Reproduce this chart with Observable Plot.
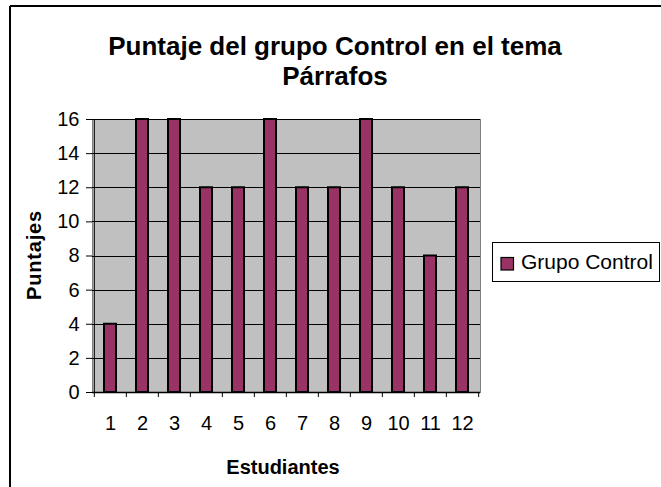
<!DOCTYPE html>
<html>
<head>
<meta charset="utf-8">
<script src="https://cdn.jsdelivr.net/npm/d3@7"></script>
<script src="https://cdn.jsdelivr.net/npm/@observablehq/plot@0.6"></script>
<style>
  html, body { margin: 0; padding: 0; background: #fff; }
  #chart { position: relative; width: 661px; height: 487px; overflow: hidden; }
  svg { font-family: "Liberation Sans", Arial, sans-serif; }
</style>
</head>
<body>
<div id="chart"></div>
<script>
const categories = ["1","2","3","4","5","6","7","8","9","10","11","12"];
const values = [4, 16, 16, 12, 12, 16, 12, 12, 16, 12, 8, 12];
const yTicks = [0, 2, 4, 6, 8, 10, 12, 14, 16];
const seriesName = "Grupo Control";
const titleLines = ["Puntaje del grupo Control en el tema", "Párrafos"];
const xTitle = "Estudiantes";
const yTitle = "Puntajes";

const data = categories.map((c, i) => ({cat: c, val: values[i]}));

const W = 661, H = 487;
const mL = 92, mR = 181, mT = 119, mB = 95;
const step = (W - mL - mR) / categories.length;
const barColor = "#993366";
const font = '"Liberation Sans", Arial, sans-serif';

const plot = Plot.plot({
  width: W,
  height: H,
  marginLeft: mL,
  marginRight: mR,
  marginTop: mT,
  marginBottom: mB,
  style: {fontFamily: font, fontSize: "20px", color: "#000", background: "transparent"},
  x: {type: "band", domain: categories, paddingInner: 0.62, paddingOuter: 0.31, axis: null},
  y: {domain: [0, 16], axis: null},
  marks: [
    Plot.frame({fill: "#C0C0C0", stroke: "#808080", shapeRendering: "crispEdges"}),
    Plot.gridY(yTicks, {stroke: "#000", strokeOpacity: 1, strokeWidth: 1, shapeRendering: "crispEdges"}),
    Plot.barY(data, {x: "cat", y: "val", fill: barColor, stroke: "#000", strokeWidth: 2}),
    Plot.ruleY([0], {stroke: "#000", strokeWidth: 1.5}),
    Plot.ruleX([categories[0]], {dx: -step / 2, stroke: "#000", strokeWidth: 1}),
    Plot.axisY({ticks: yTicks, tickSize: 6, tickPadding: 7, fontSize: 20, stroke: "#000", label: null}),
    Plot.axisX({ticks: categories, tickSize: 5, tickFormat: () => "", dx: -step / 2, stroke: "#000", label: null}),
    Plot.axisX({ticks: [categories[categories.length - 1]], tickSize: 5, tickFormat: () => "", dx: step / 2, stroke: "#000", label: null}),
    Plot.axisX({ticks: categories, tickSize: 0, tickPadding: 23, fontSize: 20, label: null})
  ]
});

document.getElementById("chart").appendChild(plot);

const svg = d3.select(plot);

// Chart area border (left and top visible)
svg.append("line").attr("x1", 10).attr("y1", 6).attr("x2", 10).attr("y2", H).attr("stroke", "#000").attr("stroke-width", 2);
svg.append("line").attr("x1", 10).attr("y1", 6).attr("x2", W).attr("y2", 6).attr("stroke", "#000").attr("stroke-width", 2);

// Title
const t = svg.append("text")
  .attr("text-anchor", "middle")
  .attr("font-family", font)
  .attr("font-weight", "bold")
  .attr("font-size", 26)
  .attr("fill", "#000");
titleLines.forEach((line, i) => {
  t.append("tspan").attr("x", 335).attr("y", 55 + i * 30).text(line);
});

// Axis titles
svg.append("text")
  .attr("transform", "translate(41,255) rotate(-90)")
  .attr("text-anchor", "middle")
  .attr("font-family", font)
  .attr("font-weight", "bold")
  .attr("font-size", 20)
  .attr("letter-spacing", 0.8)
  .attr("fill", "#000")
  .text(yTitle);

svg.append("text")
  .attr("x", 283)
  .attr("y", 474)
  .attr("text-anchor", "middle")
  .attr("font-family", font)
  .attr("font-weight", "bold")
  .attr("font-size", 20)
  .attr("fill", "#000")
  .text(xTitle);

// Legend
const lg = svg.append("g");
lg.append("rect").attr("x", 492.5).attr("y", 242.5).attr("width", 167).attr("height", 39)
  .attr("fill", "#fff").attr("stroke", "#000").attr("stroke-width", 1);
lg.append("rect").attr("x", 501).attr("y", 257.5).attr("width", 12.5).attr("height", 12.5)
  .attr("fill", barColor).attr("stroke", "#000").attr("stroke-width", 1.2);
lg.append("text").attr("x", 521).attr("y", 268.5)
  .attr("text-anchor", "start")
  .attr("font-family", font).attr("font-size", 21).attr("fill", "#000")
  .text(seriesName);
</script>
</body>
</html>
